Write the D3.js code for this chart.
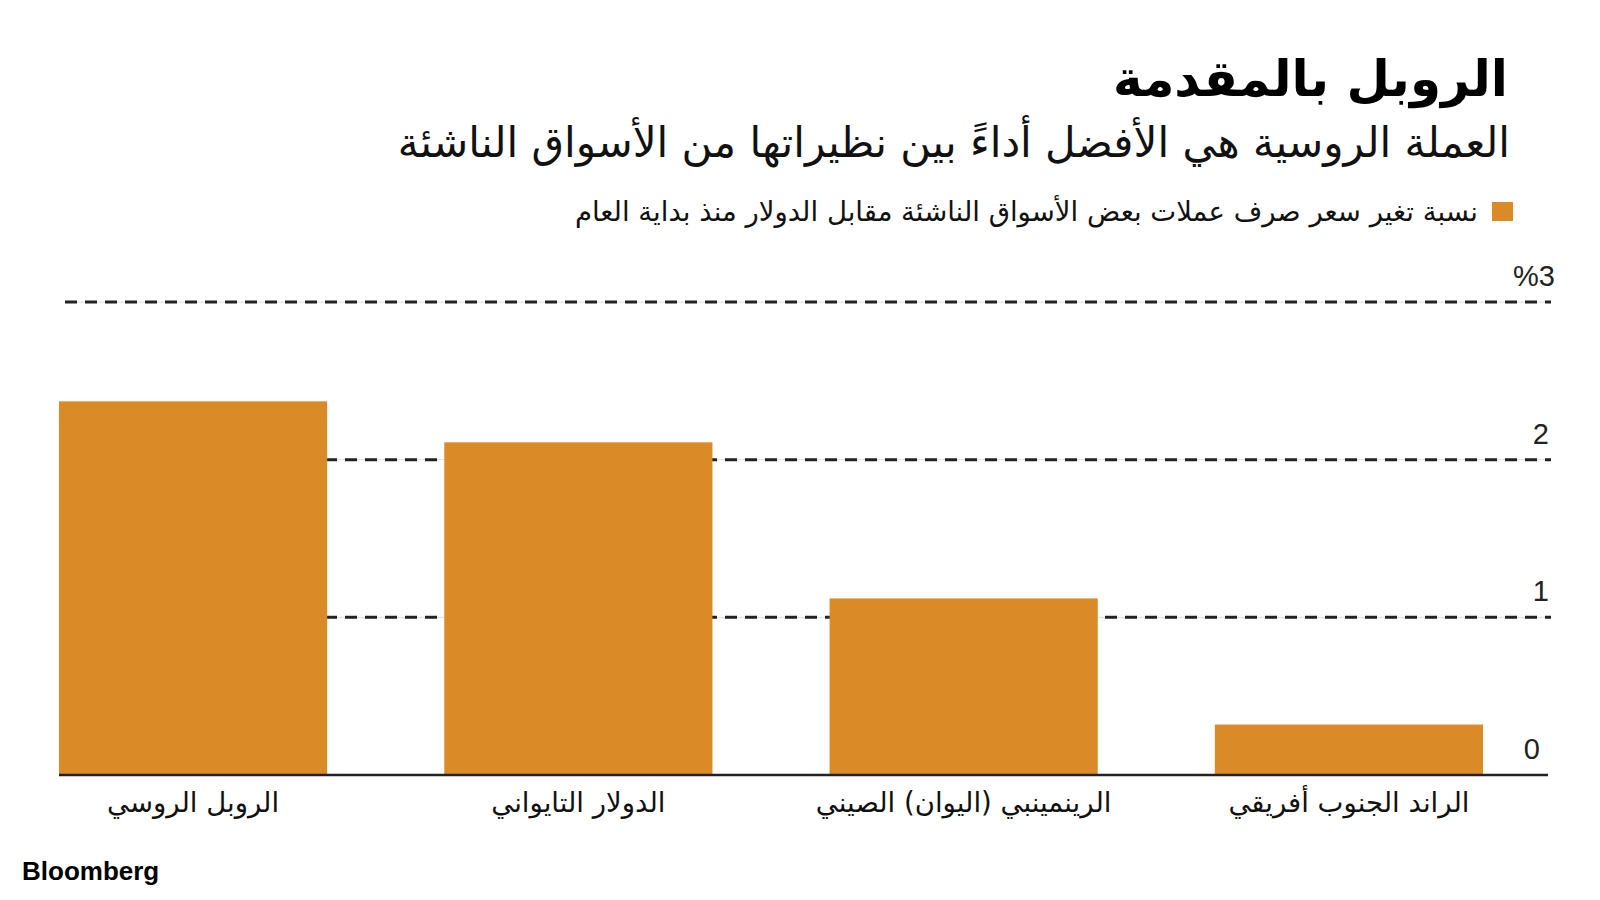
<!DOCTYPE html>
<html>
<head>
<meta charset="utf-8">
<script src="https://cdn.jsdelivr.net/npm/d3@7"></script>
<style>
  html, body { margin: 0; padding: 0; background: #fff; }
  svg { display: block; }
  .ar { font-family: "DejaVu Sans", "Noto Sans", sans-serif; }
</style>
</head>
<body>
<svg id="chart" width="1600" height="900"></svg>
<script>
const title = "الروبل بالمقدمة";
const subtitle = "العملة الروسية هي الأفضل أداءً بين نظيراتها من الأسواق الناشئة";
const legendLabel = "نسبة تغير سعر صرف عملات بعض الأسواق الناشئة مقابل الدولار منذ بداية العام";
const categories = ["الروبل الروسي", "الدولار التايواني", "الرينمينبي (اليوان) الصيني", "الراند الجنوب أفريقي"];
const values = [2.37, 2.11, 1.12, 0.32];
const tickValues = [0, 1, 2, 3];
const tickLabels = ["0", "1", "2", "%3"];
const source = "Bloomberg";

const svg = d3.select("#chart");
const color = "#DA8A27";

const x = d3.scaleBand().domain(categories).range([59, 1483]).paddingInner(0.304).paddingOuter(0);
const y = d3.scaleLinear().domain([0, 3]).range([775, 302]);

// gridlines
const gridVals = tickValues.filter(d => d > 0);
const grid = svg.append("g");
grid.selectAll("line.faint").data(gridVals).join("line").attr("class", "faint")
  .attr("x1", 65).attr("x2", 1551)
  .attr("y1", d => y(d)).attr("y2", d => y(d))
  .attr("stroke", "#ddd").attr("stroke-width", 1);
grid.selectAll("line.dash").data(gridVals).join("line").attr("class", "dash")
  .attr("x1", 65).attr("x2", 1551)
  .attr("y1", d => y(d)).attr("y2", d => y(d))
  .attr("stroke", "#222").attr("stroke-width", 3)
  .attr("stroke-dasharray", "12,8");

// bars
svg.append("g").selectAll("rect").data(values).join("rect")
  .attr("x", (d, i) => x(categories[i]))
  .attr("width", x.bandwidth())
  .attr("y", d => y(d))
  .attr("height", d => y(0) - y(d))
  .attr("fill", color);

// baseline
svg.append("line").attr("x1", 59).attr("x2", 1548).attr("y1", y(0)).attr("y2", y(0))
  .attr("stroke", "#222").attr("stroke-width", 2.5);

// tick labels
svg.append("g").selectAll("text").data(tickValues).join("text")
  .attr("x", (d, i) => tickLabels[i].includes("%") ? 1555 : (d === 0 ? 1540 : 1549))
  .attr("y", d => y(d) - 16)
  .attr("text-anchor", "end")
  .attr("font-family", "Liberation Sans, Arial, sans-serif")
  .attr("font-size", 29)
  .attr("fill", "#222")
  .text((d, i) => tickLabels[i]);

// category labels
svg.append("g").selectAll("text").data(categories).join("text")
  .attr("class", "ar")
  .attr("x", d => x(d) + x.bandwidth() / 2)
  .attr("y", 812)
  .attr("text-anchor", "middle")
  .attr("font-size", 27.5)
  .attr("fill", "#111")
  .text(d => d);

// title
svg.append("text").attr("class", "ar")
  .attr("x", 1508).attr("y", 96)
  .attr("text-anchor", "end")
  .attr("font-size", 50).attr("font-weight", "bold")
  .attr("fill", "#000").text(title);

svg.append("text").attr("class", "ar")
  .attr("x", 1510).attr("y", 157)
  .attr("text-anchor", "end")
  .attr("font-size", 42)
  .attr("fill", "#111").text(subtitle);

// legend
svg.append("rect").attr("x", 1492).attr("y", 202).attr("width", 21).attr("height", 19).attr("fill", color);
svg.append("text").attr("class", "ar")
  .attr("x", 1478).attr("y", 221)
  .attr("text-anchor", "end")
  .attr("font-size", 27.5)
  .attr("fill", "#111").text(legendLabel);

// source
svg.append("text")
  .attr("x", 22).attr("y", 880)
  .attr("font-family", "Liberation Sans, Arial, sans-serif")
  .attr("font-size", 26).attr("font-weight", "bold")
  .attr("fill", "#000").text(source);
</script>
</body>
</html>
